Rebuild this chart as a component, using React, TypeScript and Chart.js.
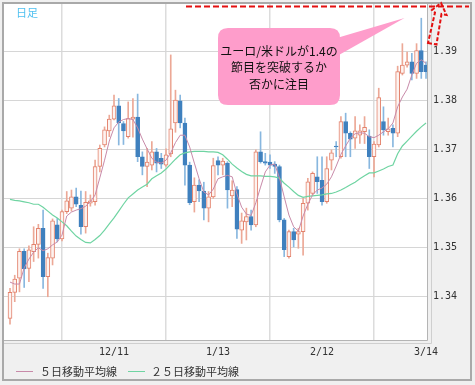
import { useEffect, useRef } from "react";
import { Chart, registerables } from "chart.js";

Chart.register(...registerables);

const OPEN = [1.3355,1.3408,1.3437,1.3492,1.3457,1.3491,1.3506,1.3539,1.3440,1.3478,
1.3546,1.3517,1.3573,1.3580,1.3603,1.3586,1.3542,1.3590,1.3593,1.3665,
1.3709,1.3738,1.3762,1.3789,1.3753,1.3726,1.3762,1.3766,1.3685,1.3665,
1.3668,1.3695,1.3682,1.3668,1.3691,1.3754,1.3799,1.3754,1.3668,1.3593,
1.3627,1.3615,1.3580,1.3603,1.3677,1.3668,1.3672,1.3605,1.3618,1.3535,
1.3552,1.3563,1.3546,1.3695,1.3675,1.3674,1.3670,1.3665,1.3556,1.3481,
1.3532,1.3527,1.3532,1.3590,1.3610,1.3644,1.3637,1.3593,1.3678,1.3707,
1.3685,1.3757,1.3733,1.3723,1.3729,1.3736,1.3727,1.3685,1.3709,1.3757,
1.3736,1.3743,1.3733,1.3855,1.3872,1.3879,1.3855,1.3902,1.3872];

const HIGH = [1.3416,1.3443,1.3497,1.3497,1.3503,1.3542,1.3547,1.3576,1.3488,1.3558,
1.3559,1.3576,1.3614,1.3617,1.3621,1.3615,1.3614,1.3607,1.3678,1.3709,
1.3746,1.3770,1.3811,1.3804,1.3757,1.3797,1.3804,1.3813,1.3695,1.3702,
1.3716,1.3702,1.3692,1.3701,1.3893,1.3821,1.3811,1.3764,1.3674,1.3642,
1.3638,1.3633,1.3614,1.3682,1.3685,1.3682,1.3675,1.3636,1.3624,1.3570,
1.3580,1.3576,1.3699,1.3736,1.3692,1.3689,1.3675,1.3668,1.3559,1.3535,
1.3539,1.3539,1.3600,1.3641,1.3654,1.3685,1.3685,1.3685,1.3699,1.3716,
1.3767,1.3774,1.3736,1.3767,1.3750,1.3767,1.3740,1.3716,1.3825,1.3787,
1.3764,1.3750,1.3870,1.3916,1.3899,1.3896,1.3916,1.3968,1.3879];

const LOW = [1.3343,1.3389,1.3409,1.3418,1.3430,1.3471,1.3478,1.3416,1.3399,1.3464,
1.3511,1.3513,1.3569,1.3574,1.3583,1.3527,1.3529,1.3584,1.3586,1.3654,
1.3705,1.3726,1.3760,1.3709,1.3710,1.3723,1.3725,1.3675,1.3648,1.3624,
1.3658,1.3654,1.3661,1.3665,1.3685,1.3735,1.3744,1.3627,1.3587,1.3572,
1.3593,1.3556,1.3552,1.3600,1.3648,1.3648,1.3580,1.3583,1.3518,1.3508,
1.3515,1.3535,1.3542,1.3672,1.3668,1.3661,1.3651,1.3552,1.3481,1.3478,
1.3501,1.3498,1.3484,1.3576,1.3607,1.3610,1.3586,1.3590,1.3658,1.3685,
1.3682,1.3685,1.3685,1.3702,1.3712,1.3712,1.3661,1.3644,1.3705,1.3729,
1.3729,1.3705,1.3726,1.3852,1.3868,1.3842,1.3845,1.3845,1.3845];

const CLOSE = [1.3408,1.3435,1.3492,1.3456,1.3495,1.3506,1.3539,1.3440,1.3479,1.3554,
1.3517,1.3573,1.3595,1.3603,1.3588,1.3542,1.3592,1.3595,1.3665,1.3702,
1.3740,1.3762,1.3789,1.3754,1.3738,1.3763,1.3766,1.3685,1.3665,1.3674,
1.3695,1.3672,1.3670,1.3689,1.3742,1.3801,1.3754,1.3668,1.3591,1.3627,
1.3615,1.3580,1.3603,1.3667,1.3668,1.3676,1.3617,1.3617,1.3537,1.3554,
1.3563,1.3546,1.3695,1.3675,1.3672,1.3668,1.3665,1.3556,1.3495,1.3532,
1.3515,1.3532,1.3590,1.3634,1.3651,1.3634,1.3593,1.3661,1.3693,1.3705,
1.3757,1.3733,1.3721,1.3738,1.3738,1.3745,1.3685,1.3711,1.3806,1.3740,
1.3742,1.3733,1.3859,1.3872,1.3879,1.3855,1.3902,1.3859,1.3859];

const MA5 = [1.3429,1.3425,1.3425,1.3458,1.3476,1.3490,1.3499,1.3493,1.3497,1.3505,
1.3511,1.3525,1.3564,1.3572,1.3576,1.3579,1.3584,1.3593,1.3607,1.3642,
1.3678,1.3717,1.3744,1.3756,1.3761,1.3763,1.3761,1.3744,1.3721,1.3701,
1.3682,1.3674,1.3672,1.3678,1.3693,1.3714,1.3729,1.3729,1.3705,1.3672,
1.3640,1.3613,1.3607,1.3619,1.3640,1.3644,1.3647,1.3644,1.3609,1.3582,
1.3568,1.3565,1.3591,1.3623,1.3654,1.3668,1.3670,1.3642,1.3603,1.3566,
1.3542,1.3533,1.3564,1.3588,1.3607,1.3617,1.3621,1.3629,1.3644,1.3666,
1.3690,1.3707,1.3723,1.3732,1.3734,1.3733,1.3726,1.3724,1.3729,1.3736,
1.3742,1.3754,1.3787,1.3807,1.3823,1.3852,1.3876,1.3883,1.3876];

const MA25 = [1.3598,1.3596,1.3595,1.3593,1.3591,1.3588,1.3588,1.3582,1.3574,1.3566,
1.3560,1.3552,1.3544,1.3533,1.3523,1.3516,1.3510,1.3509,1.3516,1.3524,
1.3535,1.3548,1.3560,1.3574,1.3588,1.3601,1.3609,1.3617,1.3623,1.3629,
1.3640,1.3646,1.3652,1.3660,1.3670,1.3680,1.3689,1.3693,1.3695,1.3696,
1.3696,1.3696,1.3695,1.3695,1.3694,1.3689,1.3680,1.3670,1.3662,1.3655,
1.3649,1.3646,1.3646,1.3646,1.3645,1.3645,1.3644,1.3641,1.3631,1.3623,
1.3614,1.3606,1.3602,1.3604,1.3605,1.3606,1.3607,1.3609,1.3610,1.3613,
1.3617,1.3622,1.3628,1.3633,1.3640,1.3646,1.3652,1.3652,1.3656,1.3660,
1.3665,1.3668,1.3691,1.3707,1.3717,1.3727,1.3737,1.3746,1.3754];

const X_TICK_INDEX = [0, 22, 44, 66, 88];
const X_TICK_LABELS = ["", "12/11", "1/13", "2/12", "3/14"];
const Y_TICKS = [1.34, 1.35, 1.36, 1.37, 1.38, 1.39];
const LEGEND_LABELS = ["５日移動平均線", "２５日移動平均線"];
const PERIOD_LABEL = "日足";
const NOTE_LINES = ["ユーロ/米ドルが1.4の", "節目を突破するか", "否かに注目"];
const TARGET_LEVEL = 1.3992;

const UP_BORDER = "#e3826c";
const UP_FILL = "#fdf3f0";
const UP_WICK = "#eca896";
const DOWN_BODY = "#3f80be";
const DOWN_WICK = "#88b7df";
const MA5_COLOR = "#c88aa9";
const MA25_COLOR = "#6fd4a2";

export default function App() {
  const ref = useRef<HTMLCanvasElement | null>(null);

  useEffect(() => {
    const canvas = ref.current;
    if (!canvas) return;
    const up = OPEN.map((o, i) => CLOSE[i] >= o);

    const decor = {
      id: "decor",
      beforeDraw(chart: any) {
        const { ctx, chartArea: a } = chart;
        ctx.save();
        ctx.fillStyle = "#f0f0f0";
        ctx.fillRect(0, 0, chart.width, chart.height);
        ctx.fillStyle = "#ffffff";
        ctx.fillRect(a.left, a.top, a.right - a.left, a.bottom - a.top);
        ctx.restore();
      },
      afterDraw(chart: any) {
        const { ctx, chartArea: a } = chart;
        const yS = chart.scales.y;
        ctx.save();
        // plot inset border
        ctx.strokeStyle = "#b4b4b4";
        ctx.lineWidth = 1;
        ctx.beginPath();
        ctx.moveTo(a.right - 0.5, a.top);
        ctx.lineTo(a.right - 0.5, a.bottom + 0.5);
        ctx.lineTo(a.left, a.bottom + 0.5);
        ctx.stroke();
        ctx.strokeStyle = "#cfcfcf";
        ctx.beginPath();
        ctx.moveTo(a.right + 3.5, a.top);
        ctx.lineTo(a.right + 3.5, a.bottom + 3.5);
        ctx.lineTo(a.left, a.bottom + 3.5);
        ctx.stroke();
        // outer frame
        ctx.strokeStyle = "#a9a9a9";
        ctx.lineWidth = 2;
        ctx.strokeRect(3, 3, 468, 377);

        // period label
        ctx.fillStyle = "#4fc0f0";
        ctx.font = '11px "Noto Sans CJK JP"';
        ctx.textAlign = "left";
        ctx.textBaseline = "middle";
        ctx.fillText(PERIOD_LABEL, 16, 13);

        // legend
        const ly = 371;
        ctx.lineWidth = 1;
        ctx.strokeStyle = MA5_COLOR;
        ctx.beginPath();
        ctx.moveTo(16, ly + 0.5);
        ctx.lineTo(33, ly + 0.5);
        ctx.stroke();
        ctx.strokeStyle = MA25_COLOR;
        ctx.beginPath();
        ctx.moveTo(128, ly + 0.5);
        ctx.lineTo(145, ly + 0.5);
        ctx.stroke();
        ctx.fillStyle = "#333333";
        ctx.font = '11px "Noto Sans CJK JP"';
        ctx.fillText(LEGEND_LABELS[0], 40, ly + 1);
        ctx.fillText(LEGEND_LABELS[1], 151, ly + 1);

        // red dashed target line
        const ty = Math.round(yS.getPixelForValue(TARGET_LEVEL)) + 0.5;
        ctx.strokeStyle = "#e31010";
        ctx.lineWidth = 2;
        ctx.setLineDash([6, 3]);
        ctx.beginPath();
        ctx.moveTo(186, ty);
        ctx.lineTo(469, ty);
        ctx.stroke();
        // dashed arrow
        ctx.setLineDash([4, 2]);
        ctx.beginPath();
        ctx.moveTo(428, 43);
        ctx.lineTo(436.5, 44.5);
        ctx.lineTo(441.5, 14);
        ctx.lineTo(446.5, 15);
        ctx.lineTo(441, 3);
        ctx.lineTo(432, 10);
        ctx.lineTo(435, 12.5);
        ctx.closePath();
        ctx.stroke();
        ctx.setLineDash([]);

        // callout
        ctx.fillStyle = "#fe9dcb";
        ctx.beginPath();
        ctx.moveTo(330, 40);
        ctx.lineTo(404.5, 18);
        ctx.lineTo(330, 60);
        ctx.closePath();
        ctx.fill();
        const bx = 218, by = 28, bw = 122, bh = 77, r = 10;
        ctx.beginPath();
        ctx.moveTo(bx + r, by);
        ctx.lineTo(bx + bw - r, by);
        ctx.quadraticCurveTo(bx + bw, by, bx + bw, by + r);
        ctx.lineTo(bx + bw, by + bh - r);
        ctx.quadraticCurveTo(bx + bw, by + bh, bx + bw - r, by + bh);
        ctx.lineTo(bx + r, by + bh);
        ctx.quadraticCurveTo(bx, by + bh, bx, by + bh - r);
        ctx.lineTo(bx, by + r);
        ctx.quadraticCurveTo(bx, by, bx + r, by);
        ctx.closePath();
        ctx.fill();
        ctx.fillStyle = "#111111";
        ctx.font = '12px "Noto Sans CJK JP"';
        ctx.textAlign = "center";
        ctx.textBaseline = "middle";
        NOTE_LINES.forEach((t, i) => ctx.fillText(t, 279, 51 + i * 16.5));
        ctx.restore();
      },
    };

    const chart = new Chart(canvas, {
      type: "bar",
      data: {
        datasets: [
          {
            type: "line",
            data: MA5.map((v, i) => ({ x: i, y: v })),
            borderColor: MA5_COLOR,
            borderWidth: 1,
            pointRadius: 0,
            tension: 0,
            order: 0,
          } as any,
          {
            type: "line",
            data: MA25.map((v, i) => ({ x: i, y: v })),
            borderColor: MA25_COLOR,
            borderWidth: 1.2,
            pointRadius: 0,
            tension: 0,
            order: 0,
          } as any,
          {
            type: "bar",
            data: OPEN.map((o, i) => ({ x: i, y: [o, CLOSE[i]] })),
            backgroundColor: up.map((u) => (u ? UP_FILL : DOWN_BODY)),
            borderColor: up.map((u) => (u ? UP_BORDER : DOWN_BODY)),
            borderWidth: 1,
            borderSkipped: false,
            barThickness: 4,
            grouped: false,
            order: 1,
          } as any,
          {
            type: "bar",
            data: LOW.map((l, i) => ({ x: i, y: [l, HIGH[i]] })),
            backgroundColor: up.map((u) => (u ? UP_WICK : DOWN_WICK)),
            borderWidth: 0,
            barThickness: 1,
            grouped: false,
            order: 2,
          } as any,
        ],
      },
      options: {
        animation: false,
        responsive: false,
        layout: { padding: { left: 4, top: 4, right: 5, bottom: 23 } },
        plugins: { legend: { display: false }, tooltip: { enabled: false } },
        scales: {
          x: {
            type: "linear",
            min: -1.27,
            max: 88.42,
            offset: false,
            border: { display: false },
            grid: { color: "#dcdcdc", lineWidth: 1.5, drawTicks: false },
            ticks: {
              font: { family: "DejaVu Sans Mono", size: 10 },
              color: "#333333",
              padding: 6,
              maxRotation: 0,
              autoSkip: false,
              callback: (v: any) => {
                const k = X_TICK_INDEX.indexOf(Number(v));
                return k >= 0 ? X_TICK_LABELS[k] : "";
              },
            },
            afterBuildTicks: (s: any) => {
              s.ticks = X_TICK_INDEX.map((v) => ({ value: v }));
            },
            afterFit: (s: any) => {
              s.height = 22;
              s.paddingLeft = 0;
              s.paddingRight = 0;
            },
          },
          y: {
            position: "right",
            min: 1.33107,
            max: 1.3997,
            border: { display: false },
            grid: { color: "#d6d6d6", lineWidth: 1, drawTicks: false },
            ticks: {
              font: { family: "DejaVu Sans Mono", size: 10 },
              color: "#333333",
              padding: 5,
              callback: (v: any) => Number(v).toFixed(2),
            },
            afterBuildTicks: (s: any) => {
              s.ticks = Y_TICKS.map((v) => ({ value: v }));
            },
            afterFit: (s: any) => {
              s.width = 42;
              s.paddingTop = 0;
              s.paddingBottom = 0;
            },
          },
        },
      },
      plugins: [decor],
    } as any);

    return () => chart.destroy();
  }, []);

  return (
    <div style={{ position: "absolute", left: 0, top: 0, width: 475, height: 385 }}>
      <canvas ref={ref} width={475} height={385} style={{ display: "block", width: 475, height: 385 }} />
    </div>
  );
}
